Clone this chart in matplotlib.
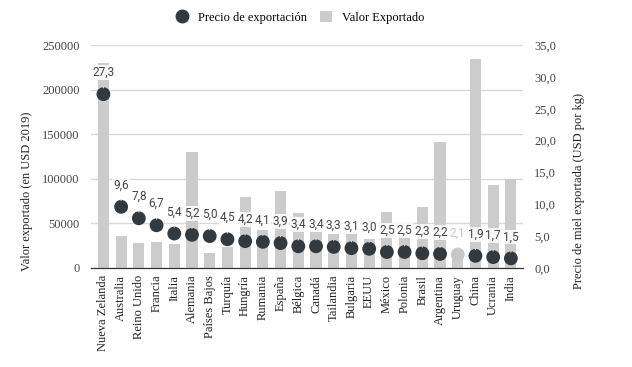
import matplotlib
matplotlib.use('Agg')
import matplotlib.pyplot as plt
from matplotlib.lines import Line2D
from matplotlib.patches import Patch

# Datos: miel exportada 2019
paises = ['Nueva Zelanda', 'Australia', 'Reino Unido', 'Francia', 'Italia', 'Alemania',
          'Países Bajos', 'Turquía', 'Hungría', 'Rumania', 'España', 'Bélgica', 'Canadá',
          'Tailandia', 'Bulgaria', 'EEUU', 'México', 'Polonia', 'Brasil', 'Argentina',
          'Uruguay', 'China', 'Ucrania', 'India']
valor_exportado = [230000, 36000, 28500, 29500, 27000, 130000, 17000, 24000, 80000, 43000,
                   86500, 62000, 40500, 38000, 40000, 33000, 63000, 36500, 68000, 141000,
                   15000, 234500, 93000, 100000]
precio = [27.3, 9.6, 7.8, 6.7, 5.4, 5.2, 5.0, 4.5, 4.2, 4.1, 3.9, 3.4, 3.4, 3.3, 3.1, 3.0,
          2.5, 2.5, 2.3, 2.2, 2.1, 1.9, 1.7, 1.5]
destacado = 'Uruguay'
ticks_precio = [0, 5, 10, 15, 20, 25, 30, 35]

serif = ['Liberation Serif', 'DejaVu Serif']
plt.rcParams['font.family'] = serif

fig = plt.figure(figsize=(6.32, 3.67), dpi=100)
ax = fig.add_axes([0.144, 0.27, 0.684, 0.607])
ax2 = ax.twinx()

x = list(range(len(paises)))
ax.bar(x, valor_exportado, width=0.63, color='#cccccc', zorder=2)
ax.set_ylim(0, 250000)
ax.set_xlim(-0.7, len(paises) - 0.3)
ax.set_yticks(range(0, 250001, 50000))
ax.grid(axis='y', color='#d9d9d9', linewidth=1, zorder=0)
ax.set_axisbelow(True)

colores = ['#c4c8ca' if p == destacado else '#333a3f' for p in paises]
ax2.scatter(x, precio, s=80, color=colores, zorder=3)
ax2.set_ylim(0, 35)
ax2.set_yticks(ticks_precio)
ax2.set_yticklabels([('%.1f' % v).replace('.', ',') for v in ticks_precio])

for xi, p, pais in zip(x, precio, paises):
    color_txt = '#c4c8ca' if pais == destacado else '#444444'
    ax2.annotate(('%.1f' % p).replace('.', ','), (xi, p), xytext=(0, 15.5),
                 textcoords='offset points', ha='center', va='center',
                 fontsize=8.5, family=['Roboto', 'DejaVu Sans'], color=color_txt,
                 bbox=dict(facecolor='white', edgecolor='none', pad=0.6, alpha=0.85),
                 arrowprops=dict(arrowstyle='-', color='#dddddd', lw=0.8,
                                 shrinkA=5, shrinkB=4.5),
                 zorder=4)

ax.set_xticks(x)
ax.set_xticklabels(paises, rotation=90, fontsize=9, color='#222222')
ax.tick_params(axis='x', length=0, pad=5)
ax.tick_params(axis='y', length=0, labelsize=9, colors='#444444', pad=8)
ax2.tick_params(axis='y', length=0, labelsize=9, colors='#444444', pad=8)

for a in (ax, ax2):
    for s in ['top', 'left', 'right']:
        a.spines[s].set_visible(False)
    a.spines['bottom'].set_color('#333333')

ax.set_ylabel('Valor exportado (en USD 2019)', fontsize=9, color='#222222')
ax.yaxis.set_label_coords(-0.135, 0.345)
ax2.set_ylabel('Precio de miel exportada (USD por kg)', fontsize=9, color='#222222')
ax2.yaxis.set_label_coords(1.115, 0.345)

handles = [Line2D([], [], marker='o', linestyle='none', markersize=9, color='#333a3f'),
           Patch(facecolor='#cccccc', edgecolor='none')]
fig.legend(handles, ['Precio de exportación', 'Valor Exportado'], loc='center',
           bbox_to_anchor=(0.475, 0.952), ncol=2, frameon=False, fontsize=9,
           handlelength=1.0, handleheight=1.0, columnspacing=1.0, handletextpad=0.8)

fig.savefig('out.png', dpi=100)
